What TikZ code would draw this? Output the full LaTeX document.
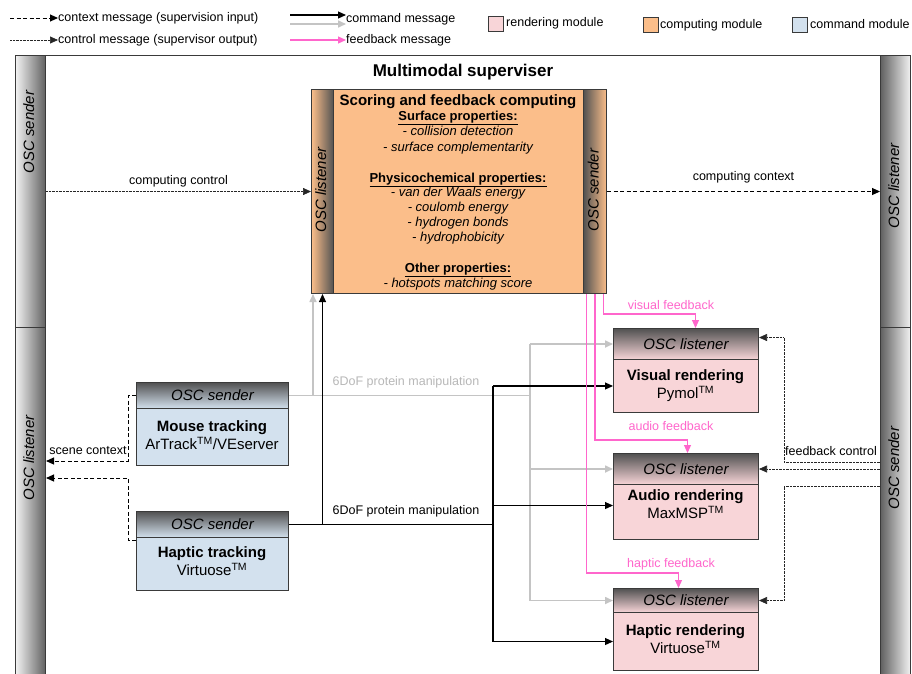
\documentclass[tikz,border=0pt]{standalone}
\usepackage{fontspec}
\setmainfont{Liberation Sans}
\usetikzlibrary{arrows.meta,calc}
\definecolor{pinkfill}{HTML}{F8D5D8}
\definecolor{orangefill}{HTML}{FBBE8A}
\definecolor{bluefill}{HTML}{D3E1EE}
\definecolor{fbpink}{HTML}{FF66CC}
\definecolor{cmdgray}{HTML}{C4C4C4}
\definecolor{boxline}{HTML}{3A3A3A}
\begin{document}
\begin{tikzpicture}[x=1pt,y=-1pt,
  tipk/.style={-{Triangle[length=8pt,width=7pt]}},
  ctx/.style={draw=black, line width=1pt, dash pattern=on 4pt off 2.5pt, tipk},
  ctl/.style={draw=black!85, line width=0.7pt, dash pattern=on 0.7pt off 0.7pt, tipk},
  cmdk/.style={draw=black, line width=1.1pt},
  cmdg/.style={draw=cmdgray, line width=1.6pt},
  fb/.style={draw=fbpink, line width=1.1pt, tipk},
  box/.style={draw=boxline, line width=1pt, inner sep=0pt, anchor=north west},
  lbar/.style={left color=black!5, middle color=black!18, right color=black!62},
  rbar/.style={left color=black!62, middle color=black!18, right color=black!5},
  hdrP/.style={top color=black!68, bottom color=pinkfill, font=\itshape\fontsize{15}{17}\selectfont},
  hdrB/.style={top color=black!68, bottom color=bluefill, font=\itshape\fontsize{15}{17}\selectfont},
  barlbl/.style={rotate=90, font=\itshape\fontsize{15}{17}\selectfont, inner sep=0pt, text height=11pt, text depth=3pt},
  body/.style={align=center, font=\fontsize{15}{18}\selectfont, inner sep=0pt},
  lbl/.style={font=\fontsize{12.5}{14}\selectfont, inner sep=0pt, text height=9pt, text depth=2.5pt},
  cl/.style={font=\itshape\fontsize{13}{15}\selectfont, inner sep=0pt, text height=9.5pt, text depth=2.7pt},
  ch/.style={font=\bfseries\fontsize{13}{15}\selectfont, inner sep=0pt, text height=9.5pt, text depth=2.7pt},
  legsq/.style={draw=boxline, line width=0.9pt, minimum size=15pt, inner sep=0pt}
]
\useasboundingbox (0,0) rectangle (912,673);
\clip (0,0) rectangle (912,673);
\fill[white] (0,0) rectangle (912,673);

% ---------------- legend
\coordinate (lgA) at (10,18);
\coordinate (lgB) at (10,40);
\coordinate (lgC) at (290,15);
\coordinate (lgD) at (290,24);
\coordinate (lgE) at (290,40);
\node[lbl, anchor=west] (lg1) at (58,18) {context message (supervision input)};
\node[lbl, anchor=west] (lg2) at (58,40) {control message (supervisor output)};
\node[lbl, anchor=west] (lg3) at (346,19) {command message};
\node[lbl, anchor=west] (lg4) at (346,40) {feedback message};
\draw[ctx] (lgA) -- (lg1.west);
\draw[ctl] (lgB) -- (lg2.west);
\draw[cmdk, tipk] (lgC) -- (lgC -| lg3.west);
\draw[cmdg, tipk] (lgD) -- (lgD -| lg3.west);
\draw[fb] (lgE) -- (lg4.west);
\node[legsq, fill=pinkfill] (sqR) at (496,24) {};
\node[lbl, anchor=west] (lgR) at (506,23) {rendering module};
\node[legsq, fill=orangefill] (sqO) at (650.5,25) {};
\node[lbl, anchor=west] (lgO) at (660,25) {computing module};
\node[legsq, fill=bluefill] (sqB) at (800,25) {};
\node[lbl, anchor=west] (lgBl) at (810,25) {command module};

% ---------------- frame and side bars
\node[box, fill=white, minimum width=895pt, minimum height=640pt] (frame) at (15,55) {};
\node[font=\bfseries\fontsize{17}{19}\selectfont, inner sep=0pt] (ttl) at (463,72) {Multimodal superviser};
\node[box, lbar, minimum width=30pt, minimum height=272pt] (lbarS) at (15,55) {};
\node[box, lbar, minimum width=30pt, minimum height=360pt] (lbarL) at (15,327) {};
\node[box, rbar, minimum width=30pt, minimum height=272pt] (rbarL) at (880,55) {};
\node[box, rbar, minimum width=30pt, minimum height=360pt] (rbarS) at (880,327) {};
\node[barlbl] (lbarSt) at (30,132) {OSC sender};
\node[barlbl] (lbarLt) at (30,458) {OSC listener};
\node[barlbl] (rbarLt) at (895,186) {OSC listener};
\node[barlbl] (rbarSt) at (895,468) {OSC sender};

% ---------------- computing module
\node[box, fill=orangefill, minimum width=295pt, minimum height=204pt] (comp) at (311,89) {};
\node[box, left color=orangefill, right color=black!68, minimum width=22pt, minimum height=204pt] (compL) at (311,89) {};
\node[box, left color=black!68, right color=orangefill, minimum width=23pt, minimum height=204pt] (compS) at (583,89) {};
\node[barlbl] (compLt) at (322,190) {OSC listener};
\node[barlbl] (compSt) at (594.5,190) {OSC sender};
\node[font=\bfseries\fontsize{15}{17}\selectfont, inner sep=0pt, text height=11pt, text depth=3pt] (c0) at (458,101) {Scoring and feedback computing};
\node[ch] (c1) at (458,117) {\underline{Surface properties:}};
\node[cl] (c2) at (458,132) {- collision detection};
\node[cl] (c3) at (458,148) {- surface complementarity};
\node[ch] (c4) at (458,179) {\underline{Physicochemical properties:}};
\node[cl] (c5) at (458,193.5) {- van der Waals energy};
\node[cl] (c6) at (458,208.5) {- coulomb energy};
\node[cl] (c7) at (458,223.5) {- hydrogen bonds};
\node[cl] (c8) at (458,238.5) {- hydrophobicity};
\node[ch] (c9) at (458,269) {\underline{Other properties:}};
\node[cl] (c10) at (458,284) {- hotspots matching score};

% ---------------- command modules
\node[box, hdrB, minimum width=152pt, minimum height=26pt] (mouseH) at (136,382) {OSC sender};
\node[box, fill=bluefill, minimum width=152pt, minimum height=57pt] (mouseB) at (136,408) {};
\node[body] (mouseT) at (212,435.5) {\textbf{Mouse tracking}\\ArTrack\textsuperscript{TM}/VEserver};
\node[box, hdrB, minimum width=152pt, minimum height=26pt] (hapH) at (136,511) {OSC sender};
\node[box, fill=bluefill, minimum width=152pt, minimum height=53pt] (hapB) at (136,537) {};
\node[body] (hapT) at (212,561) {\textbf{Haptic tracking}\\Virtuose\textsuperscript{TM}};

% ---------------- rendering modules
\node[box, hdrP, minimum width=145pt, minimum height=31pt] (visH) at (613,328) {OSC listener};
\node[box, fill=pinkfill, minimum width=145pt, minimum height=53pt] (visB) at (613,359) {};
\node[body] (visT) at (685.5,386) {\textbf{Visual rendering}\\Pymol\textsuperscript{TM}};
\node[box, hdrP, minimum width=145pt, minimum height=31pt] (audH) at (613,453) {OSC listener};
\node[box, fill=pinkfill, minimum width=145pt, minimum height=55pt] (audB) at (613,484) {};
\node[body] (audT) at (685.5,504.5) {\textbf{Audio rendering}\\MaxMSP\textsuperscript{TM}};
\node[box, hdrP, minimum width=145pt, minimum height=24pt] (hrH) at (613,588) {OSC listener};
\node[box, fill=pinkfill, minimum width=145pt, minimum height=58pt] (hrB) at (613,612) {};
\node[body] (hrT) at (685.5,639.5) {\textbf{Haptic rendering}\\Virtuose\textsuperscript{TM}};

% ---------------- control / context between bars and computing
\draw[ctl] (compL.west -| lbarS.east) -- (compL.west)
  node[lbl, midway, above=4pt] (ccl) {computing control};
\draw[ctx] (compS.east) -- (compS.east -| rbarL.west)
  node[lbl, midway, above=8pt] (cxl) {computing context};

% ---------------- gray command (mouse)
\coordinate (gbus) at (530,343.5);
\draw[cmdg] (mouseH.east) -- (mouseH.east -| gbus);
\draw[cmdg] (visH.west -| gbus) -- (hrH.west -| gbus);
\draw[cmdg, tipk] (visH.west -| gbus) -- (visH.west);
\draw[cmdg, tipk] (audH.west -| gbus) -- (audH.west);
\draw[cmdg, tipk] (hrH.west -| gbus) -- (hrH.west);
\draw[cmdg, tipk] ([xshift=2pt]compL.south west |- mouseH.east) -- ([xshift=2pt]compL.south west);
\node[lbl, text=black!28] (g6) at (406,382) {6DoF protein manipulation};

% ---------------- black command (haptic)
\coordinate (kbus) at (493,386);
\draw[cmdk] (hapH.east) -- (hapH.east -| kbus);
\draw[cmdk] (visB.west -| kbus) -- (hrB.west -| kbus);
\draw[cmdk, tipk] (visB.west -| kbus) -- (visB.west);
\draw[cmdk, tipk] ([yshift=6.5pt]audB.west -| kbus) -- ([yshift=6.5pt]audB.west);
\draw[cmdk, tipk] (hrB.west -| kbus) -- (hrB.west);
\draw[cmdk, tipk] (compL.south |- hapH.east) -- (compL.south);
\node[lbl] (k6) at (406,511) {6DoF protein manipulation};

% ---------------- feedback (pink)
\draw[fb] ([xshift=8.5pt]compS.south) |- ([xshift=9.5pt,yshift=14pt]visH.north) -- ([xshift=9.5pt]visH.north);
\draw[fb] (compS.south) |- ([xshift=1.5pt,yshift=13pt]audH.north) -- ([xshift=1.5pt]audH.north);
\draw[fb] ([xshift=-8.5pt]compS.south) |- ([xshift=-7.5pt,yshift=15pt]hrH.north) -- ([xshift=-7.5pt]hrH.north);
\node[lbl, text=fbpink] (fbv) at (671,306) {visual feedback};
\node[lbl, text=fbpink] (fba) at (671,427) {audio feedback};
\node[lbl, text=fbpink] (fbh) at (671,564) {haptic feedback};

% ---------------- feedback control (dotted)
\coordinate (fc1) at (784,462);
\coordinate (fc2) at (784,486);
\draw[ctl] (fc1 -| rbarS.west) -- (fc1) |- ([yshift=6.5pt]visH.east);
\draw[ctl] (audH.east -| rbarS.west) -- (audH.east);
\draw[ctl] (fc2 -| rbarS.west) -- (fc2) |- (hrH.east);
\node[lbl] (fcl) at (831,452) {feedback control};

% ---------------- scene context (dashed)
\coordinate (sc1) at (128,461);
\coordinate (sc2) at (128,478);
\draw[ctx] (mouseH.west) -| (sc1) -- (sc1 -| lbarL.east);
\draw[ctx] ([yshift=-3pt]hapB.north west) -| (sc2) -- (sc2 -| lbarL.east);
\node[lbl] (scl) at (88,451) {scene context};
\end{tikzpicture}
\end{document}
